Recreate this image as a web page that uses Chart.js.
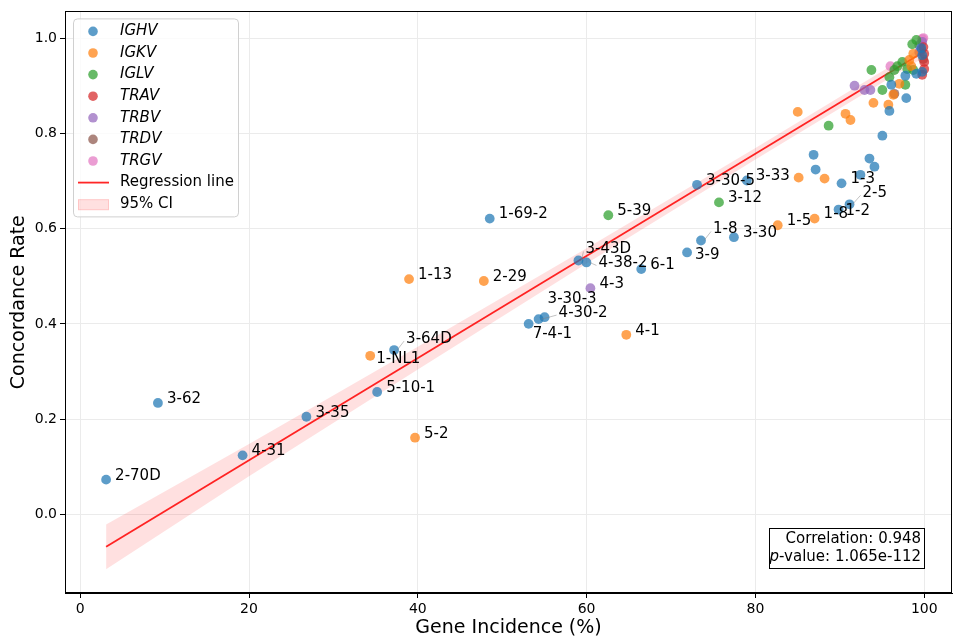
<!DOCTYPE html>
<html>
<head>
<meta charset="utf-8">
<script src="https://cdn.jsdelivr.net/npm/chart.js@4.4.0/dist/chart.umd.min.js"></script>
<style>
  html, body { margin: 0; padding: 0; background: #fff; }
</style>
</head>
<body>
<canvas id="geneChart" width="957" height="641"></canvas>
<script>
// values
const ighvX = [3.07, 9.21, 19.24, 26.80, 35.18, 37.19, 48.52, 53.13, 54.31, 55.02, 59.03, 59.98, 66.47, 71.90, 73.55, 77.45, 73.08, 78.98, 90.20, 89.85, 91.15,
  86.89, 87.13, 92.44, 93.51, 94.10, 95.04, 95.87, 97.87, 96.10, 97.76, 99.06, 99.76, 99.76, 99.65];
const ighvY = [0.073, 0.234, 0.124, 0.205, 0.257, 0.345, 0.621, 0.400, 0.410, 0.414, 0.533, 0.529, 0.515, 0.550, 0.575, 0.582, 0.692, 0.701, 0.695, 0.640, 0.651,
  0.755, 0.724, 0.713, 0.747, 0.730, 0.795, 0.847, 0.874, 0.902, 0.921, 0.925, 0.929, 0.964, 0.979];
const ighvNames = ['2-70D', '3-62', '4-31', '3-35', '5-10-1', '3-64D', '1-69-2', '7-4-1', '4-30-2', '3-30-3', '3-43D', '4-38-2', '6-1', '3-9', '1-8', '3-30', '3-30-5', '3-33', '1-3', '1-2', '2-5'];

const igkvX = [38.96, 34.36, 39.67, 47.82, 64.70, 82.64, 87.01,
  85.12, 88.19, 85.01, 90.67, 91.26, 93.98, 95.75, 96.34, 97.05, 98.23, 98.47, 98.70];
const igkvY = [0.494, 0.333, 0.161, 0.490, 0.377, 0.607, 0.621,
  0.707, 0.705, 0.845, 0.841, 0.828, 0.864, 0.860, 0.881, 0.904, 0.954, 0.941, 0.967];
const igkvNames = ['1-13', '1-NL1', '5-2', '2-29', '4-1', '1-5', '1-8'];

const iglvX = [62.57, 75.68, 88.67, 93.74, 95.04, 95.87, 96.46, 97.40, 97.76, 97.99, 98.70, 98.58, 99.06, 96.81];
const iglvY = [0.628, 0.655, 0.816, 0.933, 0.891, 0.918, 0.933, 0.950, 0.902, 0.935, 0.933, 0.987, 0.996, 0.941];
const iglvNames = ['5-39', '3-12'];

const travX = [100.0, 100.0, 100.0, 99.76, 99.9];
const travY = [0.967, 0.950, 0.935, 0.923, 0.981];
const travNames = [];

const trbvX = [60.45, 91.74, 92.92, 93.62, 99.41, 99.41, 99.76];
const trbvY = [0.475, 0.900, 0.891, 0.891, 0.985, 0.971, 0.992];
const trbvNames = ['4-3'];

const trdvX = [96.46, 99.88, 99.65];
const trdvY = [0.883, 0.956, 0.975];
const trdvNames = [];

const trgvX = [95.99, 99.76, 99.9];
const trgvY = [0.941, 0.998, 1.0];
const trgvNames = [];

const regLineX = [3.07, 100];
const regLineY = [-0.068, 0.972];
const ciX = [3.07, 20, 40, 60, 80, 100];
const ciLow = [-0.115, 0.080, 0.304, 0.527, 0.745, 0.960];
const ciHigh = [-0.021, 0.148, 0.352, 0.559, 0.769, 0.984];

const xTicks = [0, 20, 40, 60, 80, 100];
const yTicks = [0.0, 0.2, 0.4, 0.6, 0.8, 1.0];

const correlation = '0.948';
const pValue = '1.065e-112';

const families = [
  { name: 'IGHV', xs: ighvX, ys: ighvY, names: ighvNames, color: '31,119,180' },
  { name: 'IGKV', xs: igkvX, ys: igkvY, names: igkvNames, color: '255,127,14' },
  { name: 'IGLV', xs: iglvX, ys: iglvY, names: iglvNames, color: '44,160,44' },
  { name: 'TRAV', xs: travX, ys: travY, names: travNames, color: '214,39,40' },
  { name: 'TRBV', xs: trbvX, ys: trbvY, names: trbvNames, color: '148,103,189' },
  { name: 'TRDV', xs: trdvX, ys: trdvY, names: trdvNames, color: '140,86,75' },
  { name: 'TRGV', xs: trgvX, ys: trgvY, names: trgvNames, color: '227,119,194' }
];

// text offsets in px for labels that sit away from the default spot
const labelOffsets = {
  'IGHV 3-64D': [12, -11], 'IGHV 7-4-1': [4, 10], 'IGHV 4-30-2': [20, -6],
  'IGHV 3-30-3': [3, -18], 'IGHV 3-43D': [7, -11], 'IGHV 4-38-2': [12, 1],
  'IGHV 3-9': [8, 3], 'IGHV 1-8': [12, -11], 'IGHV 2-5': [13, -11],
  'IGHV 1-2': [7, 2], 'IGKV 1-NL1': [6, 3]
};
const leaderLines = ['IGHV 3-64D', 'IGHV 4-30-2', 'IGHV 4-38-2', 'IGHV 1-8', 'IGHV 2-5', 'IGHV 3-43D'];

const FONT = "'DejaVu Sans', sans-serif";

const datasets = [];
datasets.push({
  type: 'line', label: 'ciLow', order: 10,
  data: ciX.map((x, i) => ({ x: x, y: ciLow[i] })),
  borderWidth: 0, pointRadius: 0, fill: false
});
datasets.push({
  type: 'line', label: 'ciHigh', order: 10,
  data: ciX.map((x, i) => ({ x: x, y: ciHigh[i] })),
  borderWidth: 0, pointRadius: 0, fill: '-1',
  backgroundColor: 'rgba(255,0,0,0.12)'
});
datasets.push({
  type: 'line', label: 'Regression line', order: 9,
  data: regLineX.map((x, i) => ({ x: x, y: regLineY[i] })),
  borderColor: 'rgba(255,0,0,0.85)', borderWidth: 1.8, pointRadius: 0, fill: false
});
families.forEach(f => {
  datasets.push({
    type: 'scatter', label: f.name, order: 1,
    data: f.xs.map((x, i) => ({ x: x, y: f.ys[i], name: f.names[i] || '' })),
    backgroundColor: 'rgba(' + f.color + ',0.72)',
    borderWidth: 0, pointRadius: 4.9, pointHoverRadius: 4.9
  });
});

const pointLabels = {
  id: 'pointLabels',
  afterDatasetsDraw(chart) {
    const ctx = chart.ctx;
    ctx.save();
    ctx.font = '15px ' + FONT;
    ctx.textBaseline = 'middle';
    ctx.textAlign = 'left';
    chart.data.datasets.forEach((ds, di) => {
      if (ds.type !== 'scatter') return;
      const meta = chart.getDatasetMeta(di);
      ds.data.forEach((p, i) => {
        if (!p.name) return;
        const key = ds.label + ' ' + p.name;
        const off = labelOffsets[key] || [9, -4];
        const el = meta.data[i];
        const tx = el.x + off[0], ty = el.y + off[1];
        if (leaderLines.includes(key)) {
          ctx.strokeStyle = 'rgba(128,128,128,0.6)';
          ctx.lineWidth = 0.8;
          ctx.beginPath();
          ctx.moveTo(el.x + 3, el.y);
          ctx.lineTo(tx - 2, ty + 2);
          ctx.stroke();
        }
        ctx.fillStyle = '#000';
        ctx.fillText(p.name, tx, ty);
      });
    });
    ctx.restore();
  }
};

const frameAndBoxes = {
  id: 'frameAndBoxes',
  afterDraw(chart) {
    const ctx = chart.ctx;
    const a = chart.chartArea;
    ctx.save();
    // axes frame
    ctx.strokeStyle = '#000';
    ctx.lineWidth = 1;
    ctx.strokeRect(Math.round(a.left) + 0.5, Math.round(a.top) + 0.5, Math.round(a.right - a.left) - 1, Math.round(a.bottom - a.top) - 1);

    // legend inside upper left
    const lx = a.left + 8, ly = a.top + 7, lw = 165, lh = 198;
    ctx.fillStyle = 'rgba(255,255,255,0.8)';
    ctx.strokeStyle = '#d0d0d0';
    ctx.beginPath();
    ctx.roundRect(lx + 0.5, ly + 0.5, lw, lh, 4);
    ctx.fill();
    ctx.stroke();
    ctx.font = 'italic 15px ' + FONT;
    ctx.textBaseline = 'middle';
    ctx.textAlign = 'left';
    families.forEach((f, i) => {
      const cy = ly + 13 + i * 21.6;
      ctx.fillStyle = 'rgba(' + f.color + ',0.72)';
      ctx.beginPath();
      ctx.arc(lx + 20, cy, 4.8, 0, Math.PI * 2);
      ctx.fill();
      ctx.fillStyle = '#000';
      ctx.fillText(f.name, lx + 47, cy);
    });
    ctx.font = '15px ' + FONT;
    let cy = ly + 13 + 7 * 21.6;
    ctx.strokeStyle = 'rgba(255,0,0,0.85)';
    ctx.lineWidth = 1.8;
    ctx.beginPath();
    ctx.moveTo(lx + 5, cy);
    ctx.lineTo(lx + 36, cy);
    ctx.stroke();
    ctx.fillStyle = '#000';
    ctx.fillText('Regression line', lx + 47, cy);
    cy += 21.6;
    ctx.fillStyle = 'rgba(255,0,0,0.12)';
    ctx.fillRect(lx + 5, cy - 5, 31, 11);
    ctx.strokeStyle = 'rgba(255,0,0,0.12)';
    ctx.lineWidth = 1;
    ctx.strokeRect(lx + 5.5, cy - 4.5, 30, 10);
    ctx.fillStyle = '#000';
    ctx.fillText('95% CI', lx + 47, cy);

    // stats box lower right
    const bx2 = a.right - 28, by2 = a.bottom - 25;
    const bw = 155, bh = 40;
    ctx.fillStyle = '#fff';
    ctx.fillRect(bx2 - bw, by2 - bh, bw, bh);
    ctx.strokeStyle = '#000';
    ctx.lineWidth = 1;
    ctx.strokeRect(Math.round(bx2 - bw) + 0.5, Math.round(by2 - bh) + 0.5, bw, bh);
    ctx.fillStyle = '#000';
    ctx.textAlign = 'right';
    ctx.font = '15px ' + FONT;
    ctx.fillText('Correlation: ' + correlation, bx2 - 3, by2 - bh + 11);
    const rest = '-value: ' + pValue;
    ctx.fillText(rest, bx2 - 3, by2 - bh + 29);
    const rw = ctx.measureText(rest).width;
    ctx.font = 'italic 15px ' + FONT;
    ctx.fillText('p', bx2 - 3 - rw, by2 - bh + 29);
    ctx.restore();
  }
};

new Chart(document.getElementById('geneChart').getContext('2d'), {
  type: 'scatter',
  data: { datasets: datasets },
  plugins: [pointLabels, frameAndBoxes],
  options: {
    responsive: false,
    devicePixelRatio: 1,
    animation: false,
    layout: { padding: { top: 8, right: 0, left: 0, bottom: 0 } },
    plugins: {
      legend: { display: false },
      tooltip: { enabled: false }
    },
    scales: {
      x: {
        type: 'linear',
        min: -1.8,
        max: 103.3,
        afterBuildTicks: s => { s.ticks = xTicks.map(v => ({ value: v })); },
        afterFit: s => { s.height = 48; },
        ticks: { color: '#000', font: { family: FONT, size: 14 }, padding: 3 },
        grid: { color: '#ebebeb', tickColor: '#000', tickLength: 5, lineWidth: 1 },
        border: { color: '#000' },
        title: { display: true, text: 'Gene Incidence (%)', color: '#000', font: { family: FONT, size: 19 }, padding: { top: 0, bottom: 2 } }
      },
      y: {
        type: 'linear',
        min: -0.165,
        max: 1.056,
        afterBuildTicks: s => { s.ticks = yTicks.map(v => ({ value: v })); },
        afterFit: s => { s.width = 65; },
        ticks: { color: '#000', font: { family: FONT, size: 14 }, padding: 3, callback: v => v.toFixed(1) },
        grid: { color: '#ebebeb', tickColor: '#000', tickLength: 5, lineWidth: 1 },
        border: { color: '#000' },
        title: { display: true, text: 'Concordance Rate', color: '#000', font: { family: FONT, size: 19 }, padding: { top: 8, bottom: 0 } }
      }
    }
  }
});
</script>
</body>
</html>
